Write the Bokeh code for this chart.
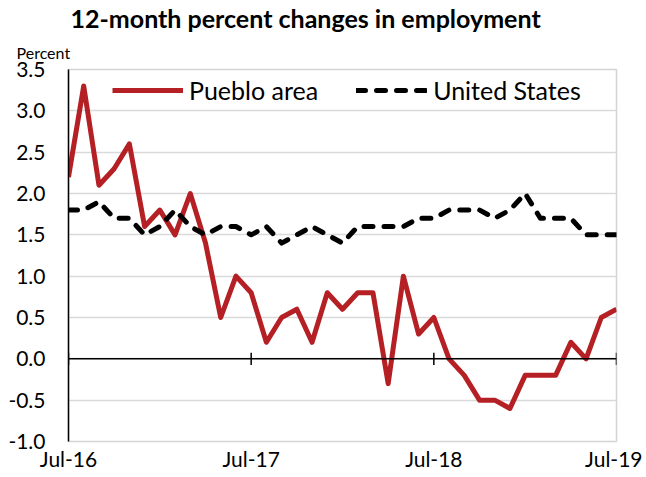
import numpy as np
from bokeh.plotting import figure
from bokeh.models import (ColumnDataSource, Legend, LegendItem, Title, Span,
                          FixedTicker, Range1d)
from bokeh.embed import file_html
from bokeh.resources import INLINE

months = ["Jul-16", "Aug-16", "Sep-16", "Oct-16", "Nov-16", "Dec-16",
          "Jan-17", "Feb-17", "Mar-17", "Apr-17", "May-17", "Jun-17",
          "Jul-17", "Aug-17", "Sep-17", "Oct-17", "Nov-17", "Dec-17",
          "Jan-18", "Feb-18", "Mar-18", "Apr-18", "May-18", "Jun-18",
          "Jul-18", "Aug-18", "Sep-18", "Oct-18", "Nov-18", "Dec-18",
          "Jan-19", "Feb-19", "Mar-19", "Apr-19", "May-19", "Jun-19",
          "Jul-19"]
pueblo = [2.2, 3.3, 2.1, 2.3, 2.6, 1.6, 1.8, 1.5, 2.0, 1.4, 0.5, 1.0,
          0.8, 0.2, 0.5, 0.6, 0.2, 0.8, 0.6, 0.8, 0.8, -0.3, 1.0, 0.3,
          0.5, 0.0, -0.2, -0.5, -0.5, -0.6, -0.2, -0.2, -0.2, 0.2, 0.0, 0.5,
          0.6]
united_states = [1.8, 1.8, 1.9, 1.7, 1.7, 1.5, 1.6, 1.8, 1.6, 1.5, 1.6, 1.6,
                 1.5, 1.6, 1.4, 1.5, 1.6, 1.5, 1.4, 1.6, 1.6, 1.6, 1.6, 1.7,
                 1.7, 1.8, 1.8, 1.8, 1.7, 1.8, 2.0, 1.7, 1.7, 1.7, 1.5, 1.5,
                 1.5]
tick_labels = ["Jul-16", "Jul-17", "Jul-18", "Jul-19"]
y_ticks = [-1.0, -0.5, 0.0, 0.5, 1.0, 1.5, 2.0, 2.5, 3.0, 3.5]

x = np.arange(len(months))
tick_pos = [months.index(t) for t in tick_labels]

src = ColumnDataSource(dict(x=x, pueblo=pueblo, us=united_states))

FONT = "Lato"
RED = "#B52025"

p = figure(width=642, height=475, output_backend="svg", toolbar_location=None,
           x_range=Range1d(0, len(months) - 1), y_range=Range1d(-1.0, 3.5),
           min_border_left=68, min_border_right=26, min_border_top=66,
           min_border_bottom=34)
p.background_fill_color = "white"
p.border_fill_color = "white"
p.outline_line_color = "#d4d4d4"
p.outline_line_width = 1.5

p.xgrid.grid_line_color = None
p.ygrid.grid_line_color = "#d9d9d9"
p.ygrid.grid_line_width = 1.5

p.yaxis.ticker = FixedTicker(ticks=y_ticks)
p.yaxis.major_label_overrides = {t: f"{t:.1f}" for t in y_ticks}
p.yaxis.axis_line_color = "black"
p.yaxis.axis_line_width = 1.5
p.yaxis.major_tick_line_color = None
p.yaxis.major_tick_out = 0
p.yaxis.major_tick_in = 0
p.yaxis.minor_tick_line_color = None
p.yaxis.major_label_standoff = 23
p.yaxis.major_label_text_font = FONT
p.yaxis.major_label_text_font_size = "21px"
p.yaxis.major_label_text_color = "black"

p.xaxis.ticker = FixedTicker(ticks=tick_pos)
p.xaxis.major_label_overrides = {pos: lab for pos, lab in zip(tick_pos, tick_labels)}
p.xaxis.axis_line_color = None
p.xaxis.major_tick_line_color = None
p.xaxis.major_tick_out = 0
p.xaxis.major_tick_in = 0
p.xaxis.minor_tick_line_color = None
p.xaxis.major_label_standoff = 4
p.xaxis.major_label_text_font = FONT
p.xaxis.major_label_text_font_size = "21px"
p.xaxis.major_label_text_color = "black"

# zero line with tick marks
p.add_layout(Span(location=0, dimension="width", line_color="black", line_width=1.5))
p.segment(x0=tick_pos, x1=tick_pos, y0=[-0.075] * len(tick_pos), y1=[0.075] * len(tick_pos),
          line_color="black", line_width=1.5)

r_p = p.line("x", "pueblo", source=src, line_color=RED, line_width=5, line_join="round")
r_u = p.line("x", "us", source=src, line_color="black", line_width=5,
             line_dash="9 11", line_cap="round", line_join="round")

legend = Legend(items=[LegendItem(label="Pueblo area", renderers=[r_p]),
                       LegendItem(label="United States", renderers=[r_u])],
                orientation="horizontal", location=(44, 336),
                glyph_width=71, glyph_height=28, label_standoff=6, spacing=38,
                padding=0, margin=0, border_line_color=None,
                background_fill_alpha=0,
                label_text_font=FONT, label_text_font_size="25px",
                label_text_color="black")
p.add_layout(legend, "center")

p.add_layout(Title(text="Percent", align="left", offset=-52, standoff=16,
                   text_font=FONT, text_font_style="normal",
                   text_font_size="16px", text_color="black"), "above")
p.title = Title(text="12-month percent changes in employment", align="left",
                offset=2, standoff=0, text_font=FONT, text_font_style="bold",
                text_font_size="25px", text_line_height=0.6, text_color="black")

open("out.html", "w").write(file_html(p, INLINE))
